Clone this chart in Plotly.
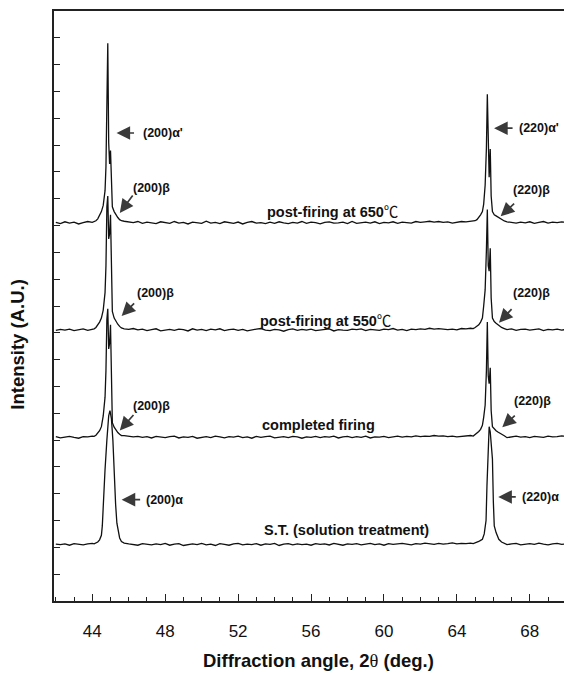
import plotly.graph_objects as go

# ---------------- data ----------------
# background scan points (2theta, deg) away from the two reflections
BG_X = [42.0, 42.25, 42.5, 42.75, 43.0, 43.25, 43.5, 43.75, 44.0,
        45.75, 46.0, 46.25, 46.5, 46.75, 47.0, 47.25, 47.5, 47.75, 48.0,
        48.25, 48.5, 48.75, 49.0, 49.25, 49.5, 49.75, 50.0, 50.25, 50.5,
        50.75, 51.0, 51.25, 51.5, 51.75, 52.0, 52.25, 52.5, 52.75, 53.0,
        53.25, 53.5, 53.75, 54.0, 54.25, 54.5, 54.75, 55.0, 55.25, 55.5,
        55.75, 56.0, 56.25, 56.5, 56.75, 57.0, 57.25, 57.5, 57.75, 58.0,
        58.25, 58.5, 58.75, 59.0, 59.25, 59.5, 59.75, 60.0, 60.25, 60.5,
        60.75, 61.0, 61.25, 61.5, 61.75, 62.0, 62.25, 62.5, 62.75, 63.0,
        63.25, 63.5, 63.75, 64.0, 64.25, 64.5, 64.75,
        66.75, 67.0, 67.25, 67.5, 67.75, 68.0, 68.25, 68.5, 68.75, 69.0,
        69.25, 69.5, 69.75, 70.0]

# background intensity (A.U., relative to each pattern's base level)
BG_650 = [0.02, -0.03, 0.04, -0.01, 0.03, -0.04, 0.01, 0.05, 0.02, 0.06,
          0.04, 0.01, 0.05, -0.02, 0.03, 0.00, -0.03, 0.04, 0.02, -0.02,
          0.05, -0.01, 0.02, -0.04, 0.03, 0.01, -0.02, 0.06, -0.01, 0.02,
          -0.03, 0.04, 0.00, -0.02, 0.03, -0.04, 0.02, 0.05, -0.01, 0.01,
          -0.03, 0.03, -0.02, 0.04, 0.00, -0.03, 0.02, -0.01, 0.05, -0.02,
          0.03, 0.01, -0.04, 0.02, 0.04, -0.01, 0.00, 0.03, -0.03, 0.05,
          -0.02, 0.01, 0.03, -0.01, 0.04, -0.03, 0.02, 0.00, 0.04, -0.02,
          0.03, 0.01, -0.01, 0.05, 0.02, 0.04, 0.06, 0.03, 0.05, 0.02,
          0.04, -0.01, 0.03, 0.05, 0.04, 0.06, 0.04, 0.02, -0.01, 0.03,
          0.00, 0.04, -0.02, 0.02, 0.05, -0.01, 0.03, 0.01, 0.04, 0.02]
BG_550 = [-0.01, 0.03, 0.00, 0.04, -0.02, 0.02, 0.05, -0.01, 0.03, 0.05,
          0.03, 0.06, 0.01, 0.04, -0.02, 0.02, 0.05, -0.03, 0.01, 0.03,
          -0.01, 0.04, 0.02, -0.03, 0.05, 0.00, 0.03, -0.02, 0.04, 0.01,
          0.05, -0.02, 0.02, 0.04, -0.01, 0.03, -0.03, 0.01, 0.04, 0.06,
          0.00, -0.02, 0.03, 0.01, -0.04, 0.02, 0.05, -0.01, 0.03, 0.00,
          0.04, -0.02, 0.01, 0.03, 0.05, -0.03, 0.02, 0.00, -0.01, 0.04,
          0.02, 0.05, -0.02, 0.03, 0.01, -0.01, 0.04, 0.02, 0.06, 0.00,
          0.03, -0.02, 0.04, 0.02, 0.05, 0.03, 0.07, 0.04, 0.06, 0.05,
          0.02, 0.04, 0.01, 0.06, 0.05, 0.07, 0.02, 0.05, -0.01, 0.03,
          0.04, 0.00, 0.02, 0.05, -0.02, 0.03, 0.01, 0.04, 0.00, 0.03]
BG_CF = [0.03, -0.02, 0.01, 0.04, 0.00, -0.03, 0.03, 0.02, 0.05, 0.07,
         0.05, 0.02, 0.04, 0.00, 0.03, -0.02, 0.04, 0.01, -0.01, 0.03,
         0.05, -0.02, 0.02, 0.00, 0.04, -0.03, 0.01, 0.03, -0.01, 0.05,
         0.02, -0.02, 0.03, 0.01, 0.05, -0.01, 0.02, -0.03, 0.04, 0.00,
         0.03, 0.05, -0.02, 0.01, 0.03, -0.01, 0.04, 0.02, -0.03, 0.02,
         0.00, 0.04, -0.01, 0.03, 0.01, 0.05, -0.02, 0.02, 0.04, -0.01,
         0.03, 0.00, 0.05, -0.02, 0.02, 0.01, 0.04, -0.01, 0.03, 0.05,
         0.01, 0.04, 0.02, 0.06, 0.03, 0.05, 0.04, 0.07, 0.05, 0.06,
         0.03, 0.05, 0.02, 0.04, 0.06, 0.07, -0.01, 0.03, 0.05, 0.01,
         0.03, -0.01, 0.04, 0.02, 0.00, 0.05, 0.02, 0.03, 0.06, 0.04]
BG_ST = [0.02, 0.00, 0.03, -0.02, 0.04, 0.01, -0.01, 0.03, 0.05, 0.06,
         0.03, 0.01, -0.02, 0.04, 0.02, -0.01, 0.03, 0.00, 0.05, -0.02,
         0.02, 0.04, -0.03, 0.01, 0.03, 0.00, 0.05, -0.01, 0.02, -0.03,
         0.04, 0.01, -0.02, 0.03, 0.05, -0.01, 0.02, 0.00, 0.04, -0.02,
         0.03, 0.01, 0.05, -0.03, 0.02, 0.04, -0.01, 0.03, 0.00, 0.02,
         -0.02, 0.04, 0.01, 0.03, -0.01, 0.05, 0.02, -0.02, 0.03, 0.01,
         0.04, -0.01, 0.02, 0.05, 0.00, 0.03, -0.02, 0.04, 0.01, 0.03,
         0.05, 0.02, -0.01, 0.04, 0.02, 0.06, 0.03, 0.01, 0.05, 0.02,
         0.04, 0.07, 0.03, 0.05, 0.04, 0.06, 0.00, 0.03, 0.05, -0.01,
         0.02, 0.04, 0.01, 0.06, 0.02, -0.01, 0.03, 0.05, 0.01, 0.03]

# (200) reflection region
P200_X = [44.1, 44.2, 44.3, 44.4, 44.5, 44.6, 44.7, 44.75, 44.8, 44.85,
          44.9, 44.95, 45.0, 45.05, 45.1, 45.2, 45.3, 45.4, 45.5, 45.6]
P200_650 = [0.04, 0.08, 0.15, 0.28, 0.42, 0.65, 1.2, 2.1, 4.2, 6.7,
            3.0, 2.2, 2.7, 1.1, 0.6, 0.42, 0.3, 0.2, 0.12, 0.08]
P200_550 = [0.05, 0.1, 0.18, 0.3, 0.45, 0.75, 1.4, 2.4, 4.6, 5.0,
            3.4, 3.6, 4.3, 1.6, 0.7, 0.45, 0.32, 0.22, 0.14, 0.08]
P200_CF = [0.04, 0.08, 0.15, 0.25, 0.4, 0.8, 1.5, 2.5, 4.4, 4.8,
           3.3, 3.5, 4.2, 1.5, 0.55, 0.38, 0.27, 0.18, 0.12, 0.07]
P200_ST_X = [44.1, 44.2, 44.3, 44.4, 44.5, 44.55, 44.6, 44.7, 44.8, 44.9,
             44.97, 45.05, 45.13, 45.2, 45.28, 45.35, 45.42, 45.5, 45.6]
P200_ST = [0.03, 0.06, 0.1, 0.18, 0.35, 0.7, 1.6, 2.8, 3.9, 4.8,
           5.0, 4.7, 3.9, 2.6, 1.5, 0.8, 0.45, 0.25, 0.12]

# (220) reflection region
P220_X = [64.9, 65.0, 65.1, 65.2, 65.3, 65.4, 65.47, 65.55, 65.62, 65.67,
          65.72, 65.77, 65.83, 65.88, 65.95, 66.05, 66.15, 66.25, 66.35,
          66.45, 66.6]
P220_650 = [0.05, 0.08, 0.12, 0.2, 0.3, 0.42, 0.7, 1.4, 2.8, 4.8,
            2.4, 1.7, 2.75, 1.0, 0.42, 0.3, 0.26, 0.22, 0.16, 0.12, 0.07]
P220_550 = [0.06, 0.1, 0.14, 0.2, 0.3, 0.45, 0.9, 1.5, 3.0, 4.5,
            2.4, 2.2, 3.05, 1.2, 0.45, 0.32, 0.26, 0.2, 0.15, 0.1, 0.06]
P220_CF = [0.05, 0.1, 0.15, 0.22, 0.3, 0.45, 0.75, 1.2, 2.5, 4.3,
           2.3, 2.0, 2.6, 1.0, 0.4, 0.3, 0.25, 0.2, 0.15, 0.1, 0.06]
P220_ST_X = [64.9, 65.0, 65.1, 65.2, 65.3, 65.4, 65.5, 65.55, 65.6, 65.65,
             65.7, 65.77, 65.83, 65.9, 65.95, 66.0, 66.05, 66.15, 66.3,
             66.45, 66.6]
P220_ST = [0.04, 0.06, 0.08, 0.12, 0.16, 0.2, 0.4, 0.6, 0.9, 2.2,
           3.6, 4.4, 4.2, 3.7, 3.2, 1.6, 0.7, 0.45, 0.2, 0.1, 0.06]

SAMPLES = ["post-firing at 650℃", "post-firing at 550℃",
           "completed firing", "S.T. (solution treatment)"]
STACK_OFFSET = [14.1, 10.1, 6.1, 2.1]

X_TICKS = [44, 48, 52, 56, 60, 64, 68]

series = [
    (BG_650, P200_X, P200_650, P220_X, P220_650),
    (BG_550, P200_X, P200_550, P220_X, P220_550),
    (BG_CF, P200_X, P200_CF, P220_X, P220_CF),
    (BG_ST, P200_ST_X, P200_ST, P220_ST_X, P220_ST),
]

fig = go.Figure()
for name, off, (bg, px2, py2, px3, py3) in zip(SAMPLES, STACK_OFFSET, series):
    pts = sorted(list(zip(BG_X, bg)) + list(zip(px2, py2)) + list(zip(px3, py3)))
    fig.add_trace(go.Scatter(
        x=[p[0] for p in pts], y=[p[1] + off for p in pts],
        mode="lines", name=name,
        line=dict(color="#111111", width=1.3),
        showlegend=False, hoverinfo="skip"))

TXT = dict(family="Liberation Sans, Arial, sans-serif", color="#111111")
CJK = "<span style='font-family:Noto Sans CJK SC;font-weight:normal'>℃</span>"


def label_html(s):
    if "℃" in s:
        return "<b>%s</b>%s" % (s.replace("℃", ""), CJK)
    return "<b>%s</b>" % s


ann = []

# sample labels
label_pos = [(57.2, 14.55), (56.8, 10.5), (56.4, 6.55), (57.95, 2.65)]
for s, (lx, ly) in zip(SAMPLES, label_pos):
    ann.append(dict(x=lx, y=ly, xref="x", yref="y", text=label_html(s),
                    showarrow=False, font=dict(size=14.5, **TXT),
                    xanchor="center", yanchor="middle"))

# peak marker arrows: (tip x, tip y, ax, ay, text x, text y, text)
markers = [
    (45.33, 17.45, 19, 0, 46.66, 17.45, "(200)α'"),
    (66.04, 17.63, 20, 0, 67.30, 17.63, "(220)α'"),
    (45.51, 14.47, 14, -19, 46.15, 15.40, "(200)β"),
    (66.40, 14.35, 15, -14, 66.95, 15.34, "(220)β"),
    (45.61, 10.63, 14, -14, 46.33, 11.50, "(200)β"),
    (66.31, 10.38, 14, -15, 66.95, 11.50, "(220)β"),
    (45.51, 6.36, 15, -17, 46.15, 7.29, "(200)β"),
    (66.49, 6.48, 14, -13, 67.02, 7.47, "(220)β"),
    (45.61, 3.78, 20, 0, 46.84, 3.78, "(200)α"),
    (66.27, 3.88, 19, 0, 67.44, 3.88, "(220)α"),
]
for tx, ty, ax, ay, lx, ly, t in markers:
    ann.append(dict(x=tx, y=ty, xref="x", yref="y", text="", showarrow=True,
                    ax=ax, ay=ay, arrowhead=2, arrowsize=1.6, arrowwidth=1.7,
                    arrowcolor="#3a3a3a"))
    ann.append(dict(x=lx, y=ly, xref="x", yref="y", text="<b>%s</b>" % t,
                    showarrow=False, font=dict(size=12.5, **TXT),
                    xanchor="left", yanchor="middle"))

# axis titles
ann.append(dict(x=0.5136, y=-0.101, xref="paper", yref="paper",
                text="<b>Diffraction angle, 2</b><span style='font-family:Liberation Serif'>θ</span><b> (deg.)</b>",
                showarrow=False, font=dict(size=18.5, **TXT),
                xanchor="center", yanchor="middle"))
ann.append(dict(x=-0.07, y=0.436, xref="paper", yref="paper",
                text="<b>Intensity (A.U.)</b>", textangle=-90,
                showarrow=False, font=dict(size=18.5, **TXT),
                xanchor="center", yanchor="middle"))

# the page body adds an 8 px margin, so the figure is sized/offset for it
fig.update_layout(
    width=564, height=668,
    margin=dict(l=46, r=2, t=1, b=75),
    paper_bgcolor="white", plot_bgcolor="white",
    annotations=ann,
    xaxis=dict(range=[41.9, 70.15], tickmode="array", tickvals=X_TICKS,
               ticktext=[str(v) for v in X_TICKS],
               ticks="inside", ticklen=7, tickwidth=1.3, tickcolor="#222",
               minor=dict(ticks="inside", ticklen=4, dtick=1, tick0=42,
                          tickwidth=1.2, tickcolor="#222"),
               showline=True, linecolor="#222", linewidth=1.8, mirror=True,
               showgrid=False, zeroline=False,
               tickfont=dict(size=17, **TXT), ticklabelstandoff=14),
    yaxis=dict(range=[0, 22], tickmode="array",
               tickvals=list(range(1, 22)), showticklabels=False,
               ticks="inside", ticklen=6, tickwidth=1.3, tickcolor="#222",
               showline=True, linecolor="#222", linewidth=1.8, mirror=True,
               showgrid=False, zeroline=False),
)

fig.write_html("out.html")
